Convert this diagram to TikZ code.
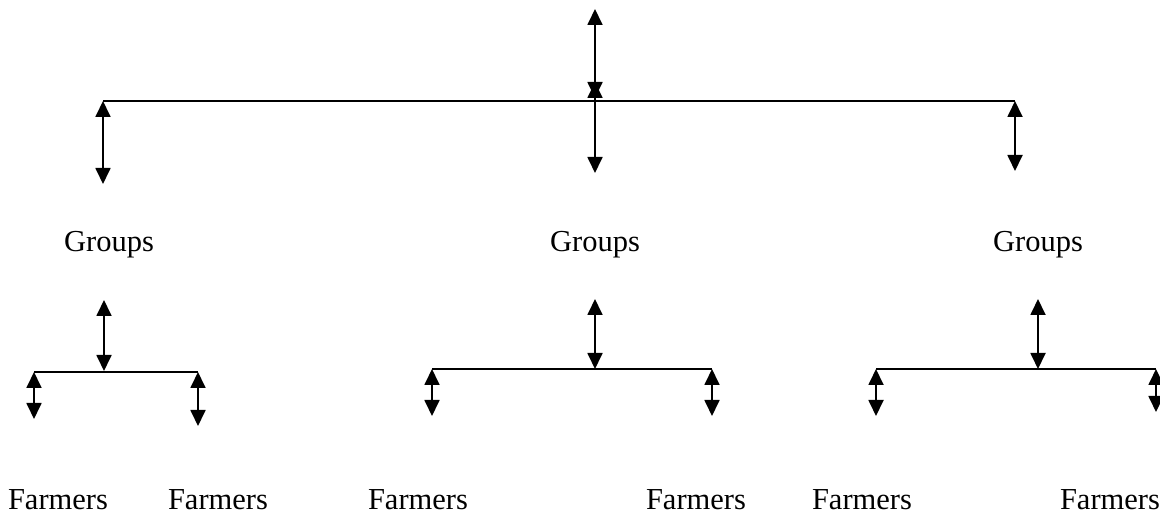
\documentclass[tikz,border=0pt]{standalone}
\usepackage{fontspec}
\setmainfont{Liberation Serif}
\usetikzlibrary{arrows.meta}
\begin{document}
\begin{tikzpicture}[x=1pt,y=-1pt,
  link/.style={line width=1.8pt,{Triangle[width=15pt,length=16pt]}-{Triangle[width=15pt,length=16pt]}},
  bar/.style={line width=1.8pt},
  lbl/.style={inner sep=0pt,font=\fontsize{30.5}{32}\selectfont}]
\useasboundingbox (0,0) rectangle (1160,518);
% top level
\coordinate (t0) at (595,9);
\coordinate (t1) at (595,98);
\coordinate (t2) at (595,82);
\coordinate (t3) at (595,173);
\coordinate (hl) at (103,101);
\coordinate (hr) at (1015,101);
\coordinate (la) at (103,184);
\coordinate (ra) at (1015,171);
\draw[link] (t1) -- (t0);
\draw[link] (t2) -- (t3);
\draw[bar] (hl) -- (hr);
\draw[link] (hl) -- (la);
\draw[link] (hr) -- (ra);
% groups
\node[lbl] (g1) at (109,245) {Groups};
\node[lbl] (g2) at (595,245) {Groups};
\node[lbl] (g3) at (1038,245) {Groups};
% left subtree
\coordinate (a1t) at (104,300);
\coordinate (a1b) at (104,371);
\coordinate (b1l) at (34,372);
\coordinate (b1r) at (198,372);
\coordinate (c1l) at (34,419);
\coordinate (c1r) at (198,426);
\draw[link] (a1t) -- (a1b);
\draw[bar] (b1l) -- (b1r);
\draw[link] (b1l) -- (c1l);
\draw[link] (b1r) -- (c1r);
% middle subtree
\coordinate (a2t) at (595,299);
\coordinate (a2b) at (595,369);
\coordinate (b2l) at (432,369);
\coordinate (b2r) at (712,369);
\coordinate (c2l) at (432,416);
\coordinate (c2r) at (712,416);
\draw[link] (a2t) -- (a2b);
\draw[bar] (b2l) -- (b2r);
\draw[link] (b2l) -- (c2l);
\draw[link] (b2r) -- (c2r);
% right subtree
\coordinate (a3t) at (1038,299);
\coordinate (a3b) at (1038,369);
\coordinate (b3l) at (876,369);
\coordinate (b3r) at (1156,369);
\coordinate (c3l) at (876,416);
\coordinate (c3r) at (1156,412);
\draw[link] (a3t) -- (a3b);
\draw[bar] (b3l) -- (b3r);
\draw[link] (b3l) -- (c3l);
\draw[link] (b3r) -- (c3r);
% farmers
\node[lbl] (f1) at (58,500) {Farmers};
\node[lbl] (f2) at (218,500) {Farmers};
\node[lbl] (f3) at (418,500) {Farmers};
\node[lbl] (f4) at (696,500) {Farmers};
\node[lbl] (f5) at (862,500) {Farmers};
\node[lbl] (f6) at (1110,500) {Farmers};
\end{tikzpicture}
\end{document}
